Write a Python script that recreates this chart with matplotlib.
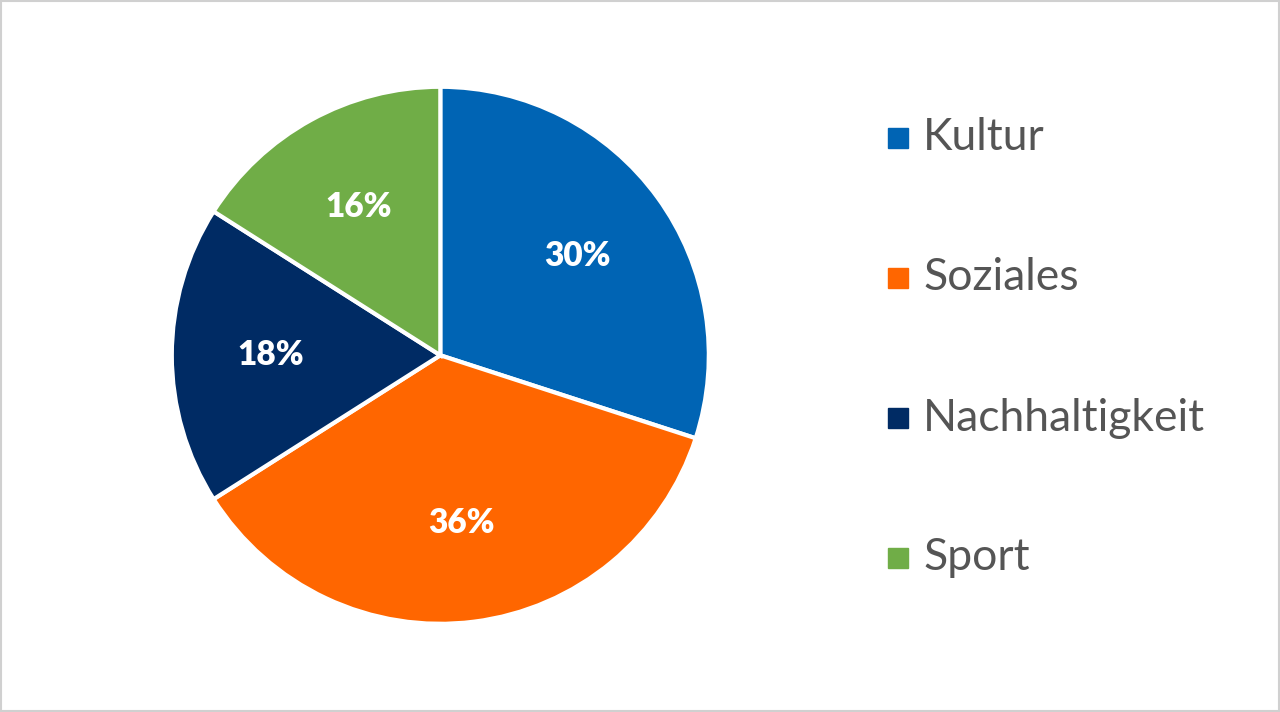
import matplotlib.pyplot as plt
from matplotlib.patches import Rectangle

labels = ["Kultur", "Soziales", "Nachhaltigkeit", "Sport"]
values = [30, 36, 18, 16]
colors = ["#0064B4", "#FF6600", "#002B64", "#70AD47"]

plt.rcParams["font.family"] = ["Lato", "DejaVu Sans"]

fig = plt.figure(figsize=(12.8, 7.12), dpi=100)
fig.patches.append(Rectangle((0.001, 0.001), 0.998, 0.997, transform=fig.transFigure,
                             fill=False, edgecolor="#D0D0D0", lw=1.5))

ax = fig.add_axes([0.344 - 0.211, 0.501 - 0.379, 0.422, 0.758])
wedges, _, autotexts = ax.pie(values, colors=colors, startangle=90, counterclock=False,
                              autopct="%d%%", pctdistance=0.63,
                              wedgeprops=dict(edgecolor="white", linewidth=3))
for t in autotexts:
    t.set_color("white")
    t.set_fontsize(24)
    t.set_fontweight("heavy")
ax.set_xlim(-1.005, 1.005)
ax.set_ylim(-1.005, 1.005)
ax.set_aspect("equal")

# legend on the right
for i, (lab, col) in enumerate(zip(labels, colors)):
    y = 1 - (138 + 140 * i) / 712
    fig.patches.append(Rectangle((888 / 1280, y - 10 / 712), 20 / 1280, 20 / 712,
                                 transform=fig.transFigure, color=col))
    fig.text(923 / 1280, y, lab, fontsize=32, color="#555555", va="center", ha="left")

fig.savefig("out.png", dpi=100)
